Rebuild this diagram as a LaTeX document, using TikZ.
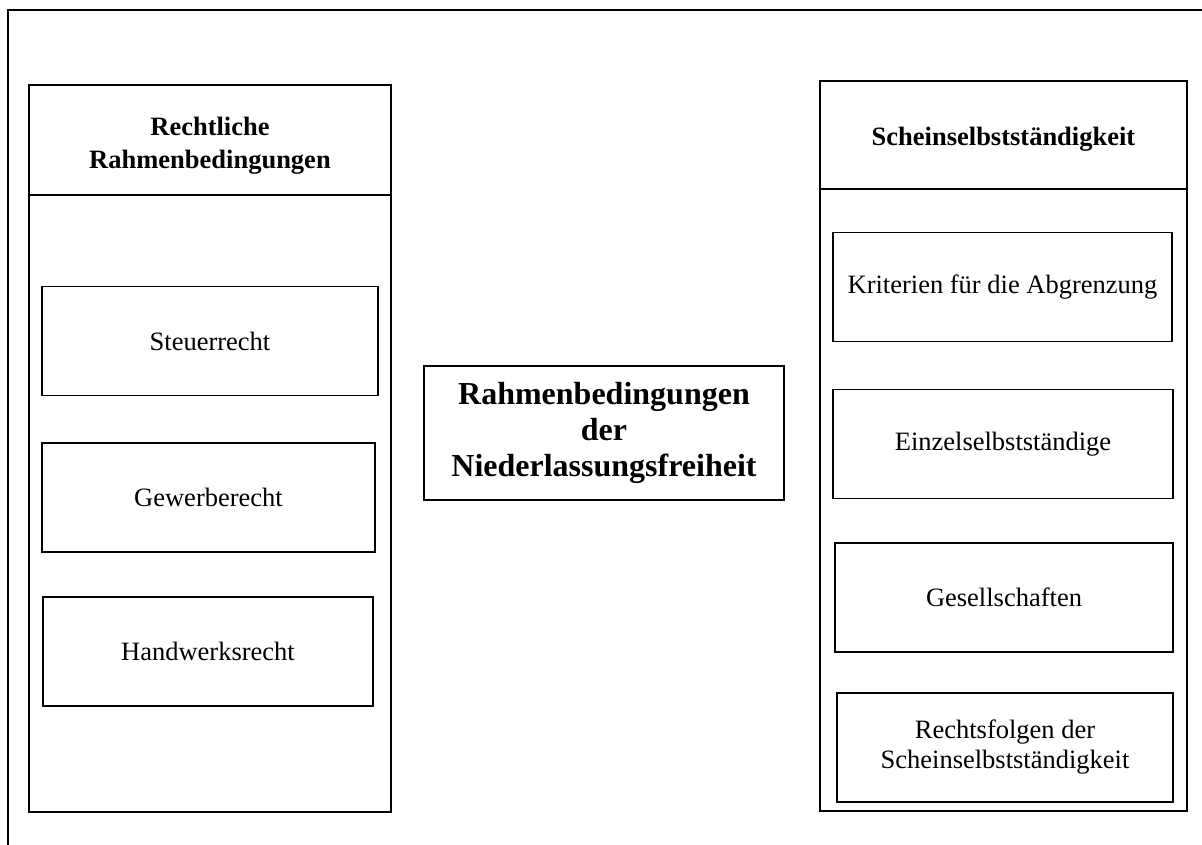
\documentclass[tikz,border=0pt]{standalone}
\usepackage{fontspec}
\setmainfont{Liberation Serif}
\usetikzlibrary{positioning}

\tikzset{
  frame/.style={line width=1.6pt},
  panel/.style={draw, line width=1.6pt, inner sep=0pt},
  topic/.style={draw, line width=1.3pt, inner sep=0pt, align=center,
    font=\fontsize{26.5}{30}\selectfont},
  heading/.style={align=center, font=\bfseries\fontsize{26.5}{33}\selectfont},
  centre/.style={draw, line width=1.6pt, inner sep=0pt, align=center,
    font=\bfseries\fontsize{32}{36}\selectfont},
}

\begin{document}
\begin{tikzpicture}[x=1pt, y=-1pt]
  \useasboundingbox (0,0) rectangle (1202,845);
  \clip (0,0) rectangle (1202,845);

  % --- outer frame (runs off the page right and bottom) ---
  \draw[frame] (8,860) -- (8,10) -- (1220,10);

  % --- the two columns ---
  \node[panel, minimum width=362pt, minimum height=727pt] (recht) at (210,448.5) {};
  \node[panel, minimum width=367pt, minimum height=730pt] (schein) at (1003.5,446) {};
  \draw[frame] (recht.west |- 0,195) -- (recht.east |- 0,195);
  \draw[frame] (schein.west |- 0,189) -- (schein.east |- 0,189);

  \node[heading] (rechthead) at (210,146) {Rechtliche\\Rahmenbedingungen};
  \node[heading] (scheinhead) at (1003.5,139) {Scheinselbstständigkeit};

  % --- topics in each column ---
  \foreach \name/\x/\y/\w/\lbl in {
    steuer/210/341/336/{Steuerrecht},
    gewerbe/208.5/497.5/333/{Gewerberecht},
    handwerk/208/651.5/330/{Handwerksrecht},
    kriterien/1002.5/287/339/{Kriterien für die Abgrenzung},
    einzel/1003/444/340/{Einzelselbstständige},
    gesell/1004/597.5/338/{Gesellschaften},
    folgen/1005/747.5/336/{Rechtsfolgen der\\Scheinselbstständigkeit}}
  {
    \node[topic, minimum width=\w pt, minimum height=109pt] (\name) at (\x,\y) {\lbl};
  }

  % --- centre box ---
  \node[centre, minimum width=360pt, minimum height=134pt] (rahmen) at (604,433)
    {Rahmenbedingungen\\der\\Niederlassungsfreiheit};

\end{tikzpicture}
\end{document}
